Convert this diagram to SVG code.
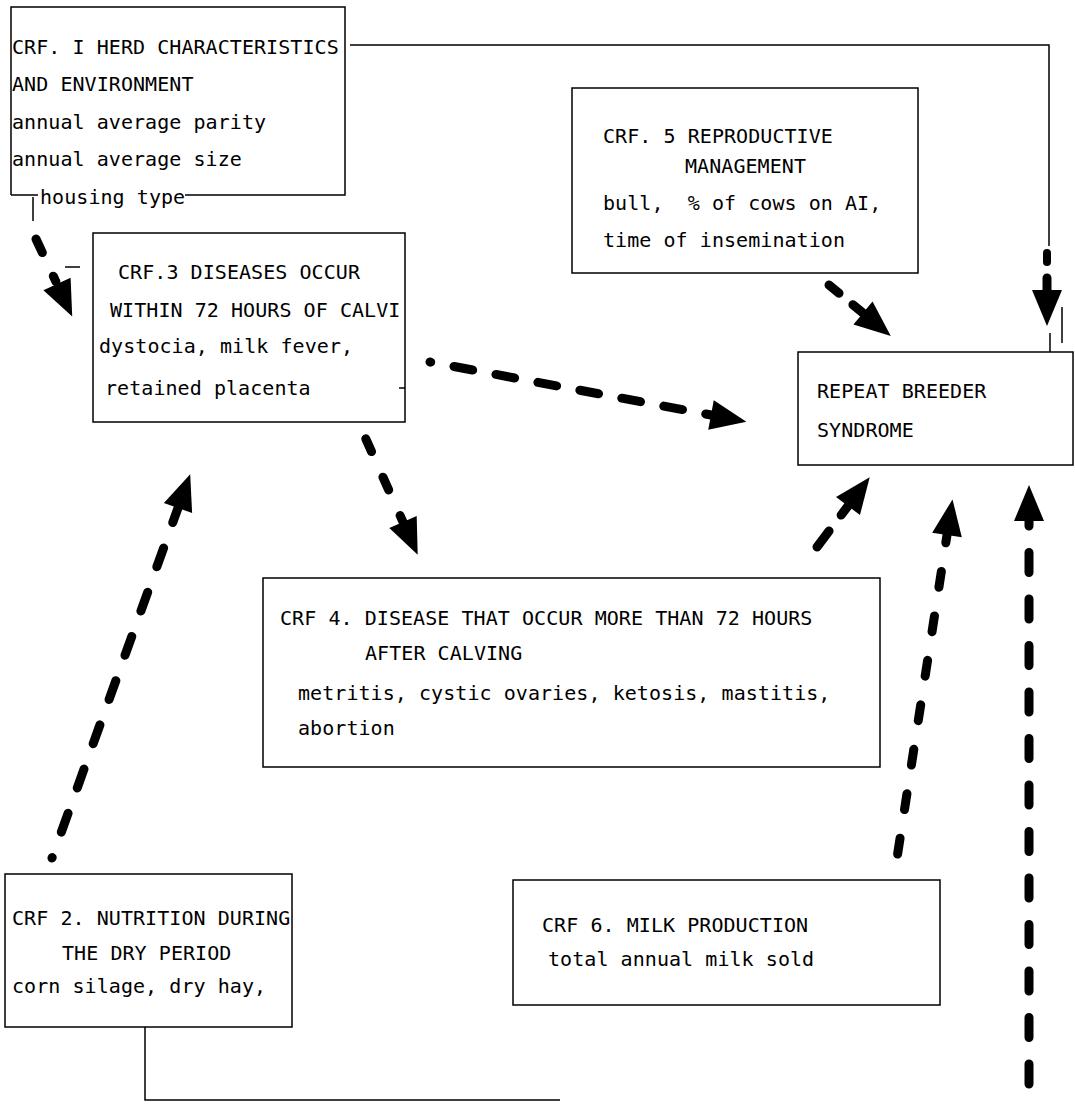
<svg xmlns="http://www.w3.org/2000/svg" width="1075" height="1104" viewBox="0 0 1075 1104">
<style>
.box{fill:none;stroke:#000;stroke-width:1.5}
.t{font-family:"DejaVu Sans Mono","Liberation Mono",monospace;font-size:20px;letter-spacing:0.06px;fill:#000}
.ln{fill:none;stroke:#000;stroke-width:1.5}
.d{fill:none;stroke:#000;stroke-width:9;stroke-linecap:round;marker-end:url(#ah)}
</style>
<defs>
<marker id="ah" markerUnits="userSpaceOnUse" orient="auto" refX="0" refY="0" markerWidth="40" markerHeight="40" style="overflow:visible"><path d="M0,-15 L36,0 L0,15 Z" fill="#000"/></marker>
</defs>
<rect width="1075" height="1104" fill="#fff"/>
<g id="crf1">
<path class="box" d="M11,195 V7 H345 V195 H185"/>
<path class="ln" d="M11,195 H38 M33,197 V221"/>
<text class="t" x="12" y="54">CRF. I HERD CHARACTERISTICS</text>
<text class="t" x="12" y="91">AND ENVIRONMENT</text>
<text class="t" x="12" y="129">annual average parity</text>
<text class="t" x="12" y="166">annual average size</text>
<text class="t" x="40" y="204">housing type</text>
</g>
<g id="crf5">
<rect class="box" x="572" y="88" width="346" height="185"/>
<text class="t" x="603" y="143">CRF. 5 REPRODUCTIVE</text>
<text class="t" x="685" y="173">MANAGEMENT</text>
<text class="t" x="603" y="210" xml:space="preserve">bull,  % of cows on AI,</text>
<text class="t" x="603" y="247">time of insemination</text>
</g>
<g id="crf3">
<rect class="box" x="93" y="233" width="312" height="189"/>
<path class="ln" d="M399,388 H405"/>
<text class="t" x="118" y="279">CRF.3 DISEASES OCCUR</text>
<text class="t" x="110" y="317">WITHIN 72 HOURS OF CALVI</text>
<text class="t" x="99" y="353">dystocia, milk fever,</text>
<text class="t" x="105" y="395">retained placenta</text>
</g>
<g id="rb">
<rect class="box" x="798" y="352" width="275" height="113"/>
<text class="t" x="817" y="398">REPEAT BREEDER</text>
<text class="t" x="817" y="437">SYNDROME</text>
</g>
<g id="crf4">
<rect class="box" x="263" y="578" width="617" height="189"/>
<text class="t" x="280" y="625">CRF 4. DISEASE THAT OCCUR MORE THAN 72 HOURS</text>
<text class="t" x="365" y="660">AFTER CALVING</text>
<text class="t" x="298" y="700">metritis, cystic ovaries, ketosis, mastitis,</text>
<text class="t" x="298" y="735">abortion</text>
</g>
<g id="crf2">
<rect class="box" x="5" y="874" width="287" height="153"/>
<text class="t" x="12" y="925">CRF 2. NUTRITION DURING</text>
<text class="t" x="62" y="960">THE DRY PERIOD</text>
<text class="t" x="12" y="993">corn silage, dry hay,</text>
</g>
<g id="crf6">
<rect class="box" x="513" y="880" width="427" height="125"/>
<text class="t" x="542" y="932">CRF 6. MILK PRODUCTION</text>
<text class="t" x="548" y="966">total annual milk sold</text>
</g>
<g id="connectors">
<path class="ln" d="M350,45 H1049 V246"/>
<path d="M1047,253 V262" stroke="#000" stroke-width="8" stroke-linecap="round"/>
<path class="d" d="M1047,278 V290"/>
<path class="ln" d="M1062,307 V343 M1050,333 V352" stroke-width="1.2"/>
<path class="d" d="M36,239 L57,284" stroke-dasharray="15 26 6 60"/>
<path class="ln" d="M65,267 H80"/>
<path class="d" d="M430,362 L711,415" stroke-dasharray="19 23.7" stroke-dashoffset="18.3"/>
<path class="d" d="M365,437 L403,522" stroke-dasharray="14 28" stroke-dashoffset="40"/>
<path class="d" d="M829,285 L863,313" stroke-dasharray="13 18 30"/>
<path class="d" d="M817,547 L848,506" stroke-dasharray="20 20 30"/>
<path class="d" d="M897,858 L947,535" stroke-dasharray="16 29" stroke-dashoffset="41"/>
<path class="d" d="M1029,1104 L1029,521" stroke-dasharray="20 26.5" stroke-dashoffset="26.5"/>
<path class="d" d="M52,858 L178,508" stroke-dasharray="20 27" stroke-dashoffset="19.5"/>
<path class="ln" d="M145,1027 V1100 H560"/>
</g>
</svg>
